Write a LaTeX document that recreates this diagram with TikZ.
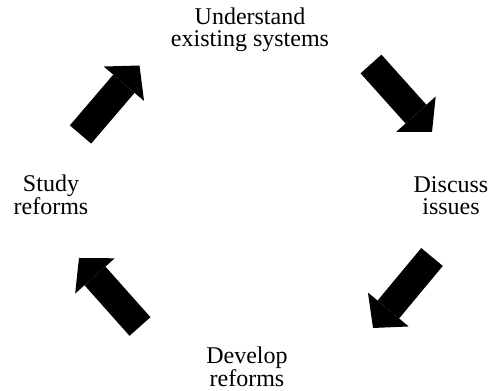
\documentclass[tikz,border=0pt]{standalone}
\usepackage{fontspec}
\setmainfont{Liberation Serif}
\usetikzlibrary{arrows.meta}
\begin{document}
\begin{tikzpicture}[x=1pt,y=1pt,
    phase/.style={align=center,inner sep=0pt,anchor=base,font=\fontsize{24}{22}\selectfont},
    bigarrow/.style={line width=28pt,-{Triangle[width=53pt,length=24pt,line width=0pt]}}]
                \useasboundingbox (0,0) rectangle (491,391);
                %fasi del ciclo
                \node[phase] (understand) at (250,344) {Understand\\existing systems};
                \node[phase] (discuss) at (451,176) {Discuss\\issues};
                \node[phase] (develop) at (247,4) {Develop\\reforms};
                \node[phase] (study) at (51,176) {Study\\reforms};
                %estremi delle frecce
                \coordinate (tr0) at (371,327);
                \coordinate (tr1) at (432,259);
                \coordinate (br0) at (432,134);
                \coordinate (br1) at (373,63);
                \coordinate (bl0) at (140,64.5);
                \coordinate (bl1) at (79,133);
                \coordinate (tl0) at (80.5,256.5);
                \coordinate (tl1) at (139.5,325.5);
                %frecce
                \draw[bigarrow] (tr0) -- (tr1);
                \draw[bigarrow] (br0) -- (br1);
                \draw[bigarrow] (bl0) -- (bl1);
                \draw[bigarrow] (tl0) -- (tl1);
            \end{tikzpicture}
\end{document}
